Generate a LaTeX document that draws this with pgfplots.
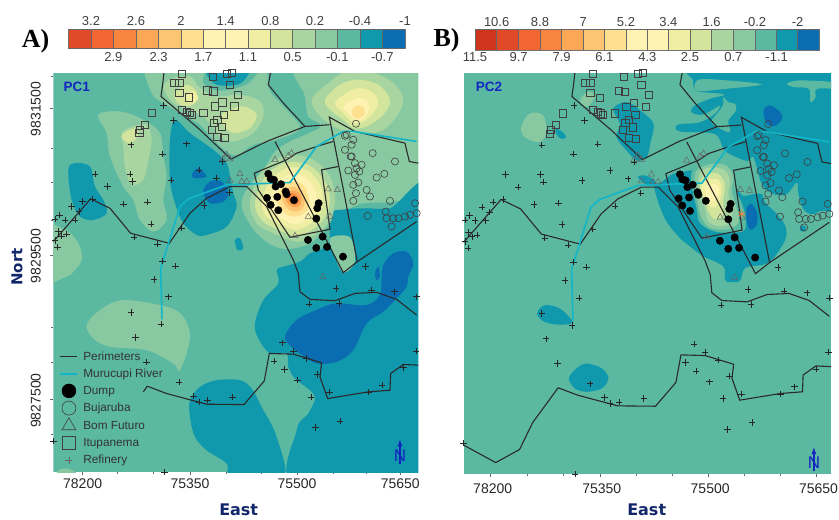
\documentclass[border=0pt]{standalone}
\usepackage{fontspec}
\usepackage{pgfplots}
\usepackage{pgfplotstable}
\pgfplotsset{compat=1.18}
\setmainfont{Liberation Sans}
\newfontfamily\serifhead{Liberation Serif}
\newfontfamily\dejahead{DejaVu Sans}
\definecolor{cA}{HTML}{0A6DB2}
\definecolor{cB}{HTML}{1098AC}
\definecolor{cC}{HTML}{5BB9A1}
\definecolor{cD}{HTML}{88C9A1}
\definecolor{cE}{HTML}{A9D6A0}
\definecolor{cF}{HTML}{D3E49C}
\definecolor{cG}{HTML}{F0EEA2}
\definecolor{cH}{HTML}{FEF3B2}
\definecolor{cI}{HTML}{FEE08F}
\definecolor{cJ}{HTML}{FCC571}
\definecolor{cK}{HTML}{FBA756}
\definecolor{cL}{HTML}{F8853F}
\definecolor{cM}{HTML}{F26634}
\definecolor{cN}{HTML}{E04A28}
\definecolor{navy}{HTML}{12286B}
\definecolor{nblue}{HTML}{1426C0}
\definecolor{riv}{HTML}{12B6C8}
\definecolor{lin}{HTML}{2A2A2A}
\pgfplotstableread{
x y
545 222
523 250
538 250
538 280
567 293
638 232
680 222
695 220
690 255
622 272
640 275
713 285
667 308
703 320
645 320
545 330
560 335
570 340
575 345
610 340
672 345
652 360
642 368
635 390
665 382
652 412
673 415
455 340
435 375
420 390
418 400
}\tabSq
\pgfplotstableread{
x y
720 522
690 542
725 545
740 545
825 480
875 460
865 468
680 465
668 478
690 478
985 568
1012 570
925 650
990 650
885 708
968 830
}\tabTri
\pgfplotstableread{
x y
1068 372
1040 405
1035 408
1060 420
1055 435
1035 450
1055 470
1118 460
1185 485
1065 490
1085 495
1045 512
1070 505
1078 515
1065 525
1130 533
1153 522
1075 548
1060 555
1068 580
1100 570
1110 590
1060 603
1170 603
1157 635
1103 648
1160 655
1175 680
1230 645
1245 610
1250 640
1215 650
1195 655
1180 655
1052 470
}\tabCirc
\pgfplotstableread{
x y
805 522
812 537
822 540
843 553
827 560
857 575
860 583
882 601
832 591
801 594
812 615
835 631
956 610
952 625
949 656
924 720
968 710
949 744
981 741
1029 770
}\tabDump
\pgfplotstableread{
x y
490 317
520 362
393 435
560 432
488 462
668 485
285 522
390 523
398 545
322 560
513 540
597 510
650 535
688 578
443 607
370 612
248 605
278 597
215 620
237 635
165 658
178 645
195 660
225 660
453 672
175 695
200 703
185 708
165 722
173 742
402 712
472 733
545 685
612 617
488 783
527 798
462 838
505 890
393 937
483 972
406 1012
440 1086
537 1146
580 1187
597 1205
623 1200
697 1190
847 1028
880 1052
920 1075
822 1083
853 1108
893 1140
952 1123
933 1190
988 1176
1105 1176
1146 1155
1210 1102
1248 1052
1183 875
1115 870
1097 800
1008 865
1017 910
927 912
1250 890
947 1282
1020 1262
493 1415
160 1323
}\tabCross
% one filled field of the map, its outline given by points
\newcommand{\reg}[2]{\addplot[fill=#1,draw=none,forget plot,smooth cycle,tension=0.55] coordinates {#2};}
\newcommand{\cell}[3]{\addplot[fill=#1,draw=black!60,line width=.6pt,forget plot] coordinates {(#2,0)(#3,0)(#3,1)(#2,1)} --cycle;}
\newcommand{\maplines}{%
\addplot[lin,line width=1.1pt,forget plot] coordinates {(492,218)(488,255)(483,290)(600,390)(693,478)(800,425)(915,380)(988,375)};
\addplot[lin,line width=1.1pt,forget plot] coordinates {(812,218)(805,255)(850,310)(915,380)};
\addplot[lin,line width=1.1pt,forget plot] coordinates {(1255,490)(1228,485)(1215,430)(1065,395)(988,352)(1072,785)(1030,818)(825,425)};
\addplot[lin,line width=1.1pt,forget plot] coordinates {(1072,785)(1250,665)};
\addplot[lin,line width=1.1pt,forget plot] coordinates {(1000,425)(950,440)(890,460)(860,480)(763,520)(775,570)(870,712)(990,688)(985,650)(965,510)(1015,500)};
\addplot[lin,line width=1.1pt,forget plot] coordinates {(160,725)(272,597)(330,625)(392,700)(508,730)(570,640)(620,595)(690,560)(740,560)(800,620)(880,780)(895,820)(900,875)(930,898)(1005,902)(1065,880)(1130,877)(1190,898)(1250,945)};
\addplot[lin,line width=1.1pt,forget plot] coordinates {(442,1158)(500,1180)(620,1212)(732,1213)(793,1142)(808,1060)(880,1062)(965,1088)(960,1130)(983,1195)(1105,1175)(1170,1170)(1172,1120)(1210,1093)(1255,1095)};
\addplot[riv,line width=1.6pt,forget plot] coordinates {(486,958)(482,805)(490,780)(540,620)(565,597)(680,555)(870,548)(950,440)(1030,395)(1060,395)(1250,425)};
}
\newcommand{\mapmarks}{%
\addplot[only marks,mark=square,mark size=3.6pt,mark options={draw=black!75,line width=.6pt},forget plot] table {\tabSq};
\addplot[only marks,mark=triangle,mark size=3.6pt,mark options={draw=black!60,line width=.5pt},forget plot] table {\tabTri};
\addplot[only marks,mark=o,mark size=3.6pt,mark options={draw=black!75,line width=.6pt},forget plot] table {\tabCirc};
\addplot[only marks,mark=*,mark size=3.7pt,mark options={draw=black,fill=black},forget plot] table {\tabDump};
\addplot[only marks,mark=+,mark size=3.2pt,mark options={draw=black!85,line width=.6pt},forget plot] table {\tabCross};
}
\pgfplotsset{
 mapaxis/.style={scale only axis,xmin=160,xmax=1255,ymin=220,ymax=1415,y dir=reverse,
  axis line style={draw=none},tick style={draw=black!60,line width=.5pt},major tick length=3pt,minor tick length=2pt,
  tick align=outside,xtick pos=bottom,ytick pos=left,
  tick label style={font=\fontsize{14}{14}\selectfont,text=black!85},
  clip marker paths=false},
 barax/.style={scale only axis,ymin=0,ymax=1,ytick=\empty,axis line style={draw=black!55,line width=.7pt},
  tick style={draw=none},xtick pos=bottom,
  tick label style={font=\fontsize{13}{13}\selectfont,text=black!75}},
}
\begin{document}
\begin{tikzpicture}[x=1pt,y=1pt]
\path[use as bounding box] (0,0) rectangle (839,520);
% ---------- colour bar A
\begin{axis}[barax,at={(68.7pt,471.7pt)},anchor=south west,width=336.3pt,height=19pt,xmin=206,xmax=1215,
 xtick={340,476,610,744,878,1012,1147},xticklabels={2.9,2.3,1.7,1.1,0.5,-0.1,-0.7},
 xticklabel style={yshift=-1pt},
 extra x ticks={273,408,543,677,811,945,1080,1215},extra x tick labels={3.2,2.6,2,1.4,0.8,0.2,-0.4,-1},
 extra x tick style={xticklabel pos=top,tick label style={yshift=1pt}}]
\cell{cN}{206}{273}\cell{cM}{273}{340}\cell{cL}{340}{408}\cell{cK}{408}{476}\cell{cJ}{476}{543}
\cell{cI}{543}{610}\cell{cH}{610}{677}\cell{cH}{677}{744}\cell{cG}{744}{811}\cell{cF}{811}{878}
\cell{cE}{878}{945}\cell{cD}{945}{1012}\cell{cC}{1012}{1080}\cell{cB}{1080}{1147}\cell{cA}{1147}{1215}
\end{axis}
% ---------- colour bar B
\begin{axis}[barax,at={(475pt,470pt)},anchor=south west,width=344pt,height=20.7pt,xmin=165,xmax=1197,
 xtick={165,296,425,553,682,810,940,1070},xticklabels={11.5,9.7,7.9,6.1,4.3,2.5,0.7,-1.1},
 xticklabel style={yshift=1pt},
 extra x ticks={230,360,490,618,745,875,1005,1133},extra x tick labels={10.6,8.8,7,5.2,3.4,1.6,-0.2,-2},
 extra x tick style={xticklabel pos=top,tick label style={yshift=-2pt}}]
\cell{cN!80!red!90!black}{165}{230}\cell{cN}{230}{296}\cell{cM}{296}{360}\cell{cL}{360}{425}\cell{cK}{425}{490}
\cell{cJ}{490}{553}\cell{cI}{553}{618}\cell{cH}{618}{682}\cell{cH}{682}{745}\cell{cG}{745}{810}\cell{cF}{810}{875}
\cell{cE}{875}{940}\cell{cD}{940}{1005}\cell{cC}{1005}{1070}\cell{cB}{1070}{1133}\cell{cA}{1133}{1197}
\end{axis}
% ---------- map A
\begin{axis}[mapaxis,at={(53.3pt,48pt)},anchor=south west,width=365pt,height=399pt,
 xtick={248,570,891,1201},xticklabels={78200,75350,75500,75650},
 minor xtick={352,460,680,785,1000,1100},
 ytick={325,765,1198},yticklabels={9831500,9829500,9827500},
 minor ytick={230,445,547,660,980,1085,1302},
 yticklabel style={rotate=90,anchor=south,yshift=6pt,xshift=-1pt},
 legend style={at={(axis cs:178,1046)},anchor=north west,draw=none,fill=none,
  font=\fontsize{11.8}{13}\selectfont\color{black!80},row sep=2.2pt,inner sep=0pt,column sep=5pt,
  legend cell align=left,nodes={inner sep=0pt,minimum height=15pt}}]
\addplot[fill=cC,draw=none,forget plot] coordinates {(160,220)(1255,220)(1255,1415)(160,1415)} --cycle;
\reg{cD}{(440,190)(600,200)(610,250)(650,272)(700,268)(745,252)(770,225)(800,200)(808,270)(850,320)(900,385)(830,420)(760,435)(720,462)(690,462)(640,420)(600,375)(540,340)(490,310)(455,280)}
\reg{cE}{(490,260)(520,235)(570,230)(600,265)(650,290)(720,285)(780,305)(790,350)(760,400)(700,425)(660,410)(630,370)(590,340)(520,310)}
\reg{cF}{(525,280)(560,255)(590,275)(585,310)(555,320)(530,305)}
\reg{cF}{(670,340)(730,320)(770,345)(750,385)(700,400)(670,375)}
\reg{cG}{(560,285)(580,275)(595,295)(580,310)(562,305)}
\reg{cB}{(620,200)(745,200)(730,245)(690,258)(640,250)}
% left ridge
\reg{cD}{(295,345)(360,335)(430,360)(480,400)(490,470)(500,530)(490,600)(500,660)(460,695)(420,660)(400,600)(370,560)(330,470)(320,400)}
\reg{cE}{(365,400)(400,380)(440,375)(455,420)(445,480)(430,540)(395,555)(375,500)(370,440)}
\reg{cF}{(365,410)(385,392)(412,388)(410,415)(385,430)}
% lower-left fields
\reg{cD}{(130,680)(205,695)(240,740)(245,780)(225,810)(200,830)(130,840)}
\reg{cD}{(260,975)(300,930)(370,900)(500,920)(550,950)(570,1015)(540,1110)(520,1090)(440,1050)(330,1040)(280,1015)}
\reg{cD}{(175,1410)(205,1405)(235,1425)(175,1430)}
% blue centre-left
\reg{cB}{(525,360)(570,400)(640,450)(680,490)(690,530)(700,580)(710,620)(680,680)(620,705)(590,705)(550,670)(525,610)(510,540)(510,420)}
\reg{cA}{(610,575)(630,545)(665,545)(685,580)(670,605)(630,610)}
\reg{cA}{(575,525)(595,505)(620,530)(585,535)}
\reg{cB}{(205,510)(225,490)(270,500)(285,560)(310,600)(320,640)(280,660)(240,650)(215,600)}
\reg{cB}{(705,720)(720,715)(730,745)(712,750)}
% top right peak and right field
\reg{cD}{(905,190)(1300,190)(1300,570)(1180,605)(1090,610)(1040,630)(1000,640)(985,560)(960,490)(940,420)(960,375)(925,350)(915,290)}
\reg{cE}{(935,300)(985,250)(1040,215)(1110,215)(1180,250)(1210,300)(1190,350)(1140,395)(1060,400)(1010,385)(960,350)}
\reg{cF}{(975,300)(1020,255)(1075,240)(1135,255)(1170,300)(1150,345)(1100,380)(1060,385)(1030,360)(990,330)}
\reg{cG}{(1005,310)(1040,280)(1080,265)(1120,280)(1135,310)(1115,345)(1080,370)(1055,365)(1025,335)}
\reg{cH}{(1030,320)(1060,300)(1085,295)(1105,310)(1105,335)(1085,360)(1065,360)(1045,340)}
\reg{cI}{(1055,335)(1070,318)(1088,320)(1095,340)(1080,355)(1065,355)}
% south-east blue field
\reg{cB}{(985,640)(1040,628)(1100,625)(1170,625)(1310,590)(1310,1460)(888,1460)(890,1290)(925,1240)(945,1195)(930,1170)(885,1135)(865,1100)(860,1060)(810,1060)(775,1015)(765,970)(790,900)(835,850)(830,810)(850,800)(900,785)(930,760)(980,740)(990,700)}
\reg{cB}{(570,1200)(600,1160)(650,1140)(720,1140)(755,1165)(785,1220)(830,1310)(850,1440)(695,1440)(680,1390)(620,1350)(585,1310)(570,1250)}
\reg{cD}{(990,715)(1050,712)(1065,785)(1030,818)(1005,770)}
\reg{cA}{(855,1015)(890,960)(960,925)(1010,910)(1100,915)(1140,885)(1145,840)(1150,795)(1180,760)(1220,755)(1240,790)(1225,830)(1220,860)(1190,895)(1150,935)(1100,970)(1060,1050)(1010,1085)(950,1090)(900,1060)}
\reg{cA}{(1125,820)(1135,800)(1140,830)(1130,840)}
% dump peak
\reg{cD}{(725,620)(745,560)(790,510)(830,450)(905,410)(985,390)(1000,520)(1000,640)(975,690)(920,735)(840,745)(770,700)}
\reg{cE}{(750,610)(780,520)(850,470)(930,475)(990,530)(1005,610)(975,680)(900,725)(820,700)(770,670)}
\reg{cF}{(765,610)(795,530)(855,490)(925,495)(975,545)(990,610)(960,670)(895,708)(825,685)(785,660)}
\reg{cG}{(785,610)(810,545)(860,505)(920,510)(960,555)(970,615)(945,660)(890,690)(835,670)(800,650)}
\reg{cH}{(805,610)(825,560)(865,525)(915,530)(945,570)(950,620)(925,655)(885,672)(845,655)(820,640)}
\reg{cI}{(830,600)(845,565)(875,545)(910,555)(925,590)(925,625)(905,645)(880,650)(855,640)}
\reg{cJ}{(845,595)(860,570)(880,560)(905,575)(915,600)(908,625)(890,635)(865,628)}
\reg{cK}{(855,590)(870,575)(885,572)(902,585)(905,605)(895,622)(875,620)(862,610)}
\reg{cL}{(862,592)(878,580)(893,590)(898,605)(888,615)(872,610)}
\reg{cM}{(870,595)(882,588)(892,598)(888,608)(876,606)}
\maplines
\addplot[lin,line width=1.1pt,forget plot] coordinates {(430,1175)(442,1158)};
\mapmarks
\addlegendimage{lin,line width=1pt}\addlegendentry{Perimeters}
\addlegendimage{riv,line width=1.8pt}\addlegendentry{Murucupi River}
\addlegendimage{only marks,mark=*,mark size=7pt,black}\addlegendentry{Dump}
\addlegendimage{only marks,mark=o,mark size=7pt,black!75,mark options={line width=.6pt}}\addlegendentry{Bujaruba}
\addlegendimage{only marks,mark=triangle,mark size=8pt,black!75,mark options={line width=.6pt}}\addlegendentry{Bom Futuro}
\addlegendimage{only marks,mark=square,mark size=6.2pt,black!75,mark options={line width=.6pt}}\addlegendentry{Itupanema}
\addlegendimage{only marks,mark=+,mark size=3.5pt,black!60,mark options={line width=.6pt}}\addlegendentry{Refinery}
\node[font=\fontsize{13.5}{14}\selectfont\bfseries,text=nblue] at (axis cs:230,262) {PC1};
\node[font=\fontsize{17}{17}\selectfont,text=nblue] at (axis cs:1200,1367) {N};
\draw[-latex,nblue,line width=1.3pt] (axis cs:1200,1390) -- (axis cs:1200,1318);
\end{axis}
% ---------- map B
\begin{axis}[mapaxis,at={(463.5pt,46pt)},anchor=south west,width=367.5pt,height=401pt,
 xtick={241,566,889,1212},xticklabels={78200,75350,75500,75650},
 xticklabel style={xshift=2pt,yshift=-3pt},
 minor xtick={350,458,675,782,997,1105},
 ytick=\empty]
\addplot[fill=cC,draw=none,forget plot] coordinates {(160,220)(1255,220)(1255,1415)(160,1415)} --cycle;
\reg{cB}{(844,190)(1300,190)(1300,591)(1222,631)(1198,641)(1173,626)(1158,581)(1153,546)(1123,581)(1084,581)(1049,551)(1024,471)(1004,482)(939,452)(909,402)(804,394)(799,374)(864,367)(909,342)(924,317)(874,344)(839,337)(849,317)(894,297)(939,284)(874,277)(849,272)(844,242)}
\reg{cC}{(860,240)(944,242)(1049,254)(944,267)(874,274)(849,272)}
\reg{cC}{(934,292)(949,307)(969,312)(972,332)(949,362)(954,397)(909,377)(899,362)(919,337)(934,312)}
\reg{cC}{(1124,252)(1164,242)(1290,250)(1290,267)(1214,267)(1209,292)(1194,307)(1189,267)(1144,262)}
\reg{cA}{(1054,332)(1074,317)(1104,337)(1109,357)(1089,377)(1064,372)}
\reg{cB}{(729,556)(739,601)(764,661)(804,711)(834,736)(874,766)(934,796)(939,836)(954,843)(984,839)(999,801)(1054,791)(1084,771)(1119,716)(1119,676)(1094,641)(1059,606)(1049,581)(1024,581)(994,586)(976,566)(954,541)(894,501)(834,511)(784,521)(749,546)}
\reg{cB}{(680,530)(700,525)(730,540)(730,556)(700,550)}
\reg{cC}{(839,551)(844,506)(894,476)(954,481)(984,516)(974,571)(994,621)(999,686)(954,696)(904,691)(864,666)(854,621)}
\reg{cD}{(849,551)(854,511)(899,491)(944,496)(964,531)(959,571)(974,621)(979,666)(944,686)(894,681)(869,651)(859,611)}
\reg{cE}{(859,541)(869,511)(904,501)(939,511)(954,541)(949,581)(959,626)(954,666)(919,676)(889,661)(879,621)(859,581)}
\reg{cF}{(864,551)(884,521)(919,521)(939,551)(934,601)(934,641)(909,656)(889,631)(879,601)}
\reg{cG}{(869,556)(894,536)(922,541)(929,571)(919,611)(904,621)(889,611)(874,586)}
\reg{cH}{(879,561)(899,551)(919,556)(919,581)(904,601)(889,596)}
\reg{cA}{(1004,621)(1019,611)(1036,641)(1032,676)(1014,686)(1004,661)}
\reg{cB}{(606,326)(646,306)(686,331)(726,371)(716,431)(706,471)(676,481)(646,451)(616,411)(626,371)}
\reg{cB}{(436,386)(456,396)(466,411)(451,416)(436,401)}
\reg{cD}{(332,381)(357,341)(397,346)(407,396)(387,426)(342,411)}
\reg{cD}{(507,300)(532,276)(552,291)(527,321)}
\reg{cB}{(379,937)(402,912)(447,922)(485,962)(447,970)(402,962)}
\reg{cB}{(474,1130)(497,1100)(527,1086)(572,1100)(592,1130)(572,1160)(527,1170)(492,1160)}
\reg{cB}{(1164,676)(1179,676)(1179,691)(1164,691)}
\maplines
\addplot[lin,line width=1.1pt,forget plot] coordinates {(442,1158)(366,1262)(327,1342)(256,1381)(157,1327)};
\mapmarks
\addplot[only marks,mark=asterisk,mark size=4pt,mark options={draw=cL,line width=.7pt},forget plot] coordinates {(989,640)};
\node[font=\fontsize{13.5}{14}\selectfont\bfseries,text=nblue] at (axis cs:236,262) {PC2};
\node[font=\fontsize{17}{17}\selectfont,text=nblue] at (axis cs:1204,1382) {N};
\draw[-latex,nblue,line width=1.3pt] (axis cs:1204,1405) -- (axis cs:1204,1336);
\end{axis}
% ---------- headings
\node[font=\fontsize{26}{26}\selectfont\serifhead\bfseries,text=black] at (35.5,479) {A)};
\node[font=\fontsize{26}{26}\selectfont\serifhead\bfseries,text=black] at (446.5,480) {B)};
\node[font=\fontsize{15}{15}\selectfont\dejahead\bfseries,text=navy,rotate=90] at (17,253) {Nort};
\node[font=\fontsize{16}{16}\selectfont\dejahead\bfseries,text=navy] at (238.7,10) {East};
\node[font=\fontsize{16}{16}\selectfont\dejahead\bfseries,text=navy] at (646.7,10) {East};
\end{tikzpicture}
\end{document}
